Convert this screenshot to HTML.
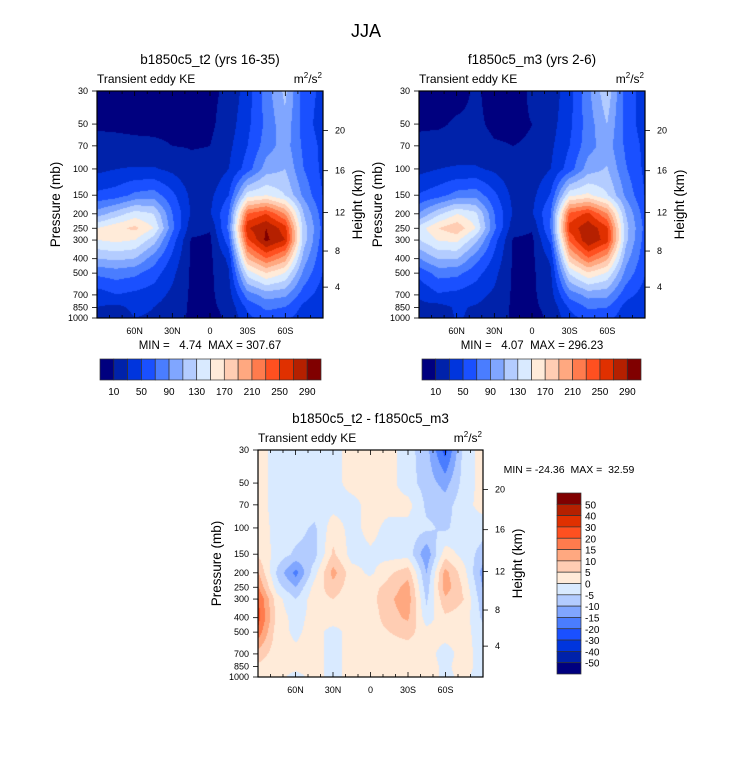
<!DOCTYPE html>
<html><head><meta charset="utf-8">
<style>
body{margin:0;background:#fff;}
#wrap{position:relative;width:733px;height:772px;overflow:hidden;background:#fff;font-family:"Liberation Sans",sans-serif;}
canvas{position:absolute;}
svg{position:absolute;left:0;top:0;}
text{white-space:pre;}
</style></head>
<body>
<div id="wrap">
<canvas id="c1" width="226" height="227" style="left:97px;top:91px"></canvas>
<canvas id="c2" width="226" height="227" style="left:419px;top:91px"></canvas>
<canvas id="c3" width="225" height="227" style="left:258px;top:450px"></canvas>
<svg id="s" width="733" height="772"></svg>
</div>
<script>
// ---- data ----
const lats = [90,75,60,45,30,15,0,-15,-30,-45,-60,-75,-90];
const pressures = [30,50,70,100,150,200,250,300,400,500,700,850,1000];
const keLevels = [10,30,50,70,90,110,130,150,170,190,210,230,250,270,290];
const diffLevels = [-50,-40,-30,-20,-15,-10,-5,0,5,10,15,20,30,40,50];
const keLabels = ["10","50","90","130","170","210","250","290"];
const diffLabels = ["50","40","30","20","15","10","5","0","-5","-10","-15","-20","-30","-40","-50"];
const latTickLabels = ["60N","30N","0","30S","60S"];
const latTickValues = [60,30,0,-30,-60];
const heightLabels = ["20","16","12","8","4"];
const colors = ["#00007f","#0022aa","#0035dd","#1a50ff","#4a7dff","#80a6ff","#b3ccff","#d9eaff","#ffebd9","#ffcdb3","#ffa880","#ff7b4d","#ff5020","#e03000","#b52000","#800000"];

const ke1 = [
[5,5,5,5,5,5,5,15,40,80,115,60,45],
[8,7,6,6,6,6,6,20,45,75,105,60,40],
[15,15,14,13,10,9,10,25,50,80,100,65,45],
[25,30,32,32,25,15,15,30,60,100,110,70,45],
[55,60,75,80,55,25,25,50,140,150,130,85,50],
[100,120,140,130,70,28,28,70,230,250,210,110,60],
[150,165,175,150,75,18,12,75,268,290,260,120,65],
[150,155,150,120,60,8,6,62,245,295,270,120,60],
[110,115,110,80,45,7,6,35,190,230,200,100,55],
[75,80,75,60,35,7,6,28,140,170,150,85,50],
[40,50,45,40,25,7,6,22,80,100,95,60,40],
[30,25,35,30,20,7,6,16,55,75,70,45,30],
[25,20,30,28,18,7,4,13,45,60,55,40,30]];

const ke2 = [
[5,5,5,12,5,5,12,18,42,85,125,60,42],
[8,8,12,12,8,8,10,22,45,80,110,62,40],
[14,16,15,14,11,10,11,26,50,82,100,66,45],
[24,30,33,33,26,16,16,30,60,100,112,72,46],
[52,62,78,82,55,24,24,52,145,155,132,86,50],
[92,125,150,135,70,28,28,70,235,255,212,110,60],
[140,170,185,150,74,18,12,72,258,285,255,118,65],
[130,152,155,117,58,8,6,56,232,290,260,116,62],
[90,112,112,78,45,7,6,34,180,228,196,98,58],
[58,78,76,58,36,7,6,27,133,168,148,84,52],
[32,48,44,38,26,7,6,22,78,98,96,58,42],
[26,23,33,28,21,7,6,16,53,73,71,43,32],
[23,18,32,26,19,7,4,13,43,58,56,39,32]];

const diff = [
[2,-2,-2,-2,-2,2,2,2,-3,-8,-22,-3,2],
[2,-2,-2,-2,-2,2,2,2,-3,-7,-12,-3,2],
[2,-2,-2,-2,-2,-2,2,2,2,-6,-7,-2,2],
[3,-2,-3,-6,3,-2,2,-2,-2,-4,-6,-2,-3],
[4,-2,-6,-7,6,-2,-1,-2,-2,-14,3,-2,-7],
[10,-6,-17,-2,12,2,-1,4,8,-10,12,2,-12],
[15,-3,-10,2,8,2,3,7,12,-8,13,4,-10],
[20,2,-5,3,5,2,3,9,13,-6,9,5,-8],
[22,3,-2,2,3,2,2,8,11,-3,4,3,-6],
[18,2,-1,2,-2,2,2,5,7,2,2,2,-3],
[8,2,1,2,-2,2,2,2,2,2,-2,2,-2],
[4,2,2,2,-2,2,2,2,2,2,-1,2,-2],
[2,2,-2,2,-2,2,2,2,2,2,-1,1,-2]];

// ---- rendering ----
const LP0 = Math.log(30), LP1 = Math.log(1000);
function hex(c){return [parseInt(c.slice(1,3),16),parseInt(c.slice(3,5),16),parseInt(c.slice(5,7),16)];}
const rgb = colors.map(hex);
function drawField(id, grid, levels){
  const cv = document.getElementById(id), ctx = cv.getContext('2d');
  const W = cv.width, H = cv.height, img = ctx.createImageData(W,H);
  const lpr = pressures.map(Math.log);
  for(let py=0;py<H;py++){
    const lp = LP0 + (py/(H-1))*(LP1-LP0);
    let r=0; while(r<lpr.length-2 && lpr[r+1]<lp) r++;
    const fy = Math.min(1,Math.max(0,(lp-lpr[r])/(lpr[r+1]-lpr[r])));
    for(let px=0;px<W;px++){
      const fx = px/(W-1)*(lats.length-1);
      let c = Math.min(lats.length-2, Math.floor(fx)); const tx = fx-c;
      const v = (grid[r][c]*(1-tx)+grid[r][c+1]*tx)*(1-fy)+(grid[r+1][c]*(1-tx)+grid[r+1][c+1]*tx)*fy;
      let k=0; while(k<levels.length && v>=levels[k]) k++;
      const col = rgb[k], i=(py*W+px)*4;
      img.data[i]=col[0];img.data[i+1]=col[1];img.data[i+2]=col[2];img.data[i+3]=255;
    }
  }
  ctx.putImageData(img,0,0);
}
drawField('c1', ke1, keLevels);
drawField('c2', ke2, keLevels);
drawField('c3', diff, diffLevels);

const NS='http://www.w3.org/2000/svg', svg=document.getElementById('s');
function el(tag, attrs, parent){const e=document.createElementNS(NS,tag);for(const k in attrs)e.setAttribute(k,attrs[k]);(parent||svg).appendChild(e);return e;}
function txt(x,y,s,size,anchor,name,extra){
  const t=el('text',Object.assign({x:x,y:y,'font-size':size,'text-anchor':anchor||'middle','font-family':'Liberation Sans, sans-serif',fill:'#000'},extra||{}));
  
  
  t.textContent=s; return t;
}
function unitLabel(x,y,name){
  const t=el('text',{x:x,y:y,'font-size':12,'text-anchor':'end','font-family':'Liberation Sans, sans-serif'});
  
  
  t.innerHTML='m<tspan dy="-5" font-size="8">2</tspan><tspan dy="5">/s</tspan><tspan dy="-5" font-size="8">2</tspan>';
}
const heightFr=[0.174,0.351,0.535,0.705,0.864];
function axes(x0,y0,w,h,title,tag){
  const g=el('g',{});
  
  
  txt(x0+w/2,y0-27,title,13.5,'middle',tag+'-title');
  txt(x0,y0-8,'Transient eddy KE',12,'start',tag+'-subtitle');
  unitLabel(x0+w-1,y0-8,tag+'-units');
  el('rect',{x:x0,y:y0,width:w,height:h,fill:'none',stroke:'#000','stroke-width':1.2},g);
  const xs=lat=>x0+(90-lat)/180*w;
  for(let lat=80;lat>-90;lat-=10){
    const major=(lat%30===0), L=major?5:3;
    el('line',{x1:xs(lat),y1:y0,x2:xs(lat),y2:y0+L,stroke:'#000','stroke-width':0.8},g);
    el('line',{x1:xs(lat),y1:y0+h,x2:xs(lat),y2:y0+h-L,stroke:'#000','stroke-width':0.8},g);
  }
  latTickValues.forEach((v,i)=>{txt(xs(v),y0+h+16,latTickLabels[i],9,'middle',tag+'-xtick');});
  const ys=p=>y0+(Math.log(p)-LP0)/(LP1-LP0)*h;
  pressures.forEach(p=>{
    el('line',{x1:x0-5,y1:ys(p),x2:x0,y2:ys(p),stroke:'#000','stroke-width':0.8},g);
    txt(x0-9,ys(p)+3,String(p),9,'end',tag+'-ytick');
  });
  heightFr.forEach((f,i)=>{
    const y=y0+f*h;
    el('line',{x1:x0+w,y1:y,x2:x0+w+5,y2:y,stroke:'#000','stroke-width':0.8},g);
    txt(x0+w+12,y+3,heightLabels[i],9,'start',tag+'-height-tick');
  });
  txt(0,0,'Pressure (mb)',13.5,'middle',tag+'-y-axis-title',{transform:`translate(${x0-37},${y0+h/2}) rotate(-90)`});
  txt(0,0,'Height (km)',13.5,'middle',tag+'-right-axis-title',{transform:`translate(${x0+w+39},${y0+h/2}) rotate(-90)`});
}
txt(366,37,'JJA',18,'middle','main-title');
axes(97,91,226,227,'b1850c5_t2 (yrs 16-35)','left-panel');
axes(419,91,226,227,'f1850c5_m3 (yrs 2-6)','right-panel');
axes(258,450,225,227,'b1850c5_t2 - f1850c5_m3','diff-panel');
txt(210,349,'MIN =   4.74  MAX = 307.67',11.5,'middle','left-minmax');
txt(532,349,'MIN =   4.07  MAX = 296.23',11.5,'middle','right-minmax');
txt(569,473,'MIN = -24.36  MAX =  32.59',10.5,'middle','diff-minmax');

function hbar(x0,y0,w,h,tag){
  const n=colors.length, bw=w/n;
  for(let i=0;i<n;i++){
    const r=el('rect',{x:x0+i*bw,y:y0,width:bw,height:h,fill:colors[i],stroke:'#333','stroke-width':0.7});
    
    
  }
  keLabels.forEach((s,j)=>{txt(x0+(2*j+1)*bw,y0+h+15,s,10,'middle',tag+'-label');});
}
hbar(100,359,221,21,'left-colorbar');
hbar(422,359,219,21,'right-colorbar');
(function(){
  const x0=557,y0=493,w=24,h=181,n=colors.length,bh=h/n;
  for(let i=0;i<n;i++){
    const r=el('rect',{x:x0,y:y0+i*bh,width:w,height:bh,fill:colors[n-1-i],stroke:'#333','stroke-width':0.7});
    
    
  }
  diffLabels.forEach((s,j)=>{txt(x0+w+4,y0+(j+1)*bh+4,s,10,'start','diff-colorbar-label');});
})();
</script>
</body></html>
